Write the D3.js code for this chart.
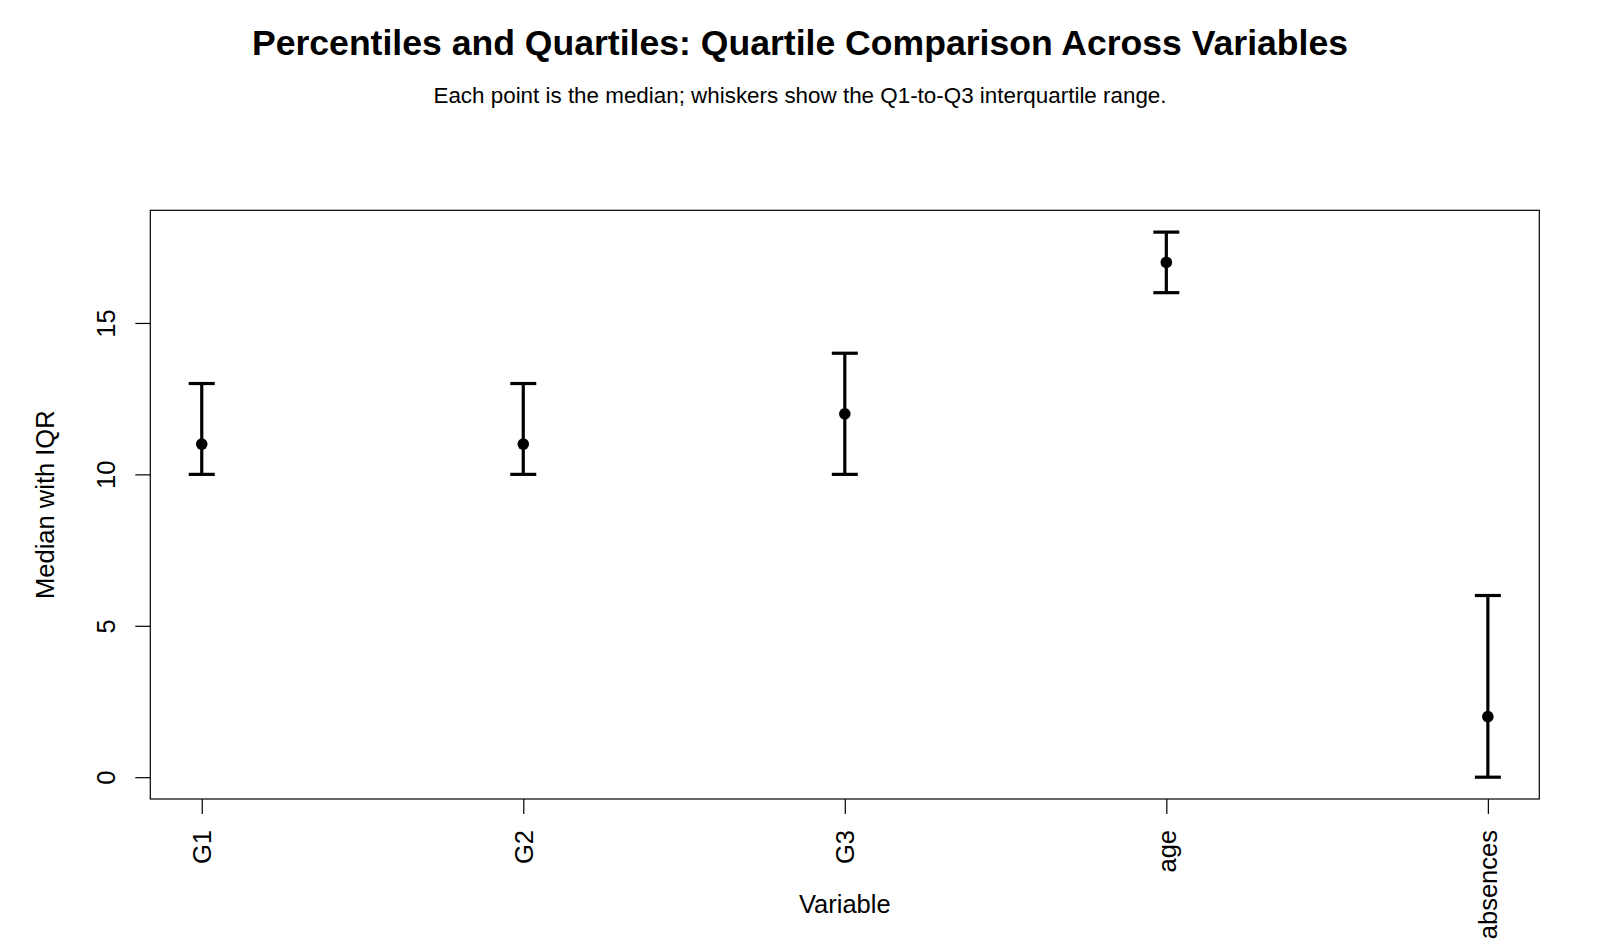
<!DOCTYPE html>
<html>
<head>
<meta charset="utf-8">
<script src="https://cdn.jsdelivr.net/npm/d3@7"></script>
<style>
  html, body { margin: 0; padding: 0; background: #fff; }
  svg { display: block; font-family: "Liberation Sans", Arial, Helvetica, sans-serif; }
</style>
</head>
<body>
<svg id="chart" width="1600" height="950"></svg>
<script>
const categories = ["G1", "G2", "G3", "age", "absences"];
const q1Values = [10, 10, 10, 16, 0];
const medianValues = [11, 11, 12, 17, 2];
const q3Values = [13, 13, 14, 18, 6];
const yTicks = [0, 5, 10, 15];

const svg = d3.select("#chart");
const W = 1600, H = 950;
const plot = { left: 150.3, right: 1539.3, top: 210.3, bottom: 799 };

svg.append("rect").attr("width", W).attr("height", H).attr("fill", "#fff");

const yMin = d3.min(q1Values), yMax = d3.max(q3Values);
const yPad = (yMax - yMin) * 0.04;
const n = categories.length;
const xPad = (n - 1) * 0.04;

const x = d3.scaleLinear().domain([1 - xPad, n + xPad]).range([plot.left, plot.right]);
const y = d3.scaleLinear().domain([yMin - yPad, yMax + yPad]).range([plot.bottom, plot.top]);

// Title and subtitle
svg.append("text").attr("x", 800).attr("y", 55).attr("text-anchor", "middle")
  .attr("font-size", 35.6).attr("font-weight", "bold").attr("fill", "#000")
  .text("Percentiles and Quartiles: Quartile Comparison Across Variables");
svg.append("text").attr("x", 800).attr("y", 103).attr("text-anchor", "middle")
  .attr("font-size", 22.4).attr("fill", "#000")
  .text("Each point is the median; whiskers show the Q1-to-Q3 interquartile range.");

// Frame
svg.append("rect").attr("x", plot.left).attr("y", plot.top)
  .attr("width", plot.right - plot.left).attr("height", plot.bottom - plot.top)
  .attr("fill", "none").attr("stroke", "#000").attr("stroke-width", 1.2);

// Y axis
const yAxis = d3.axisLeft(y).tickValues(yTicks).tickSize(15).tickPadding(0).tickFormat(d3.format("d"));
const gy = svg.append("g").attr("transform", `translate(${plot.left},0)`).call(yAxis);
gy.select(".domain").remove();
gy.selectAll(".tick line").attr("stroke", "#000").attr("stroke-width", 1.2);
gy.selectAll(".tick text")
  .attr("font-size", 25.5).attr("fill", "#000").attr("font-family", null)
  .attr("text-anchor", "middle").attr("dy", null).attr("x", null)
  .attr("transform", `translate(-35,0) rotate(-90)`);

// X axis
const xAxis = d3.axisBottom(x).tickValues(d3.range(1, n + 1)).tickSize(15).tickFormat(i => categories[i - 1]);
const gx = svg.append("g").attr("transform", `translate(0,${plot.bottom})`).call(xAxis);
gx.select(".domain").remove();
gx.selectAll(".tick line").attr("stroke", "#000").attr("stroke-width", 1.2);
gx.selectAll(".tick text")
  .attr("font-size", 25.5).attr("fill", "#000").attr("font-family", null)
  .attr("text-anchor", "end").attr("dy", null).attr("y", null)
  .attr("transform", `translate(9,31) rotate(-90)`);

// Axis titles
svg.append("text").attr("x", (plot.left + plot.right) / 2).attr("y", 913)
  .attr("text-anchor", "middle").attr("font-size", 25.5).attr("fill", "#000").text("Variable");
svg.append("text").attr("transform", `translate(54,${(plot.top + plot.bottom) / 2}) rotate(-90)`)
  .attr("text-anchor", "middle").attr("font-size", 25.5).attr("fill", "#000").text("Median with IQR");

// Error bars
const data = categories.map((c, i) => ({ c, i: i + 1, q1: q1Values[i], med: medianValues[i], q3: q3Values[i] }));
const capHalf = 13;
const g = svg.append("g");
g.selectAll(".stem").data(data).join("line")
  .attr("x1", d => x(d.i)).attr("x2", d => x(d.i))
  .attr("y1", d => y(d.q1)).attr("y2", d => y(d.q3))
  .attr("stroke", "#000").attr("stroke-width", 3.2);
g.selectAll(".capTop").data(data).join("line")
  .attr("x1", d => x(d.i) - capHalf).attr("x2", d => x(d.i) + capHalf)
  .attr("y1", d => y(d.q3)).attr("y2", d => y(d.q3))
  .attr("stroke", "#000").attr("stroke-width", 3.2);
g.selectAll(".capBot").data(data).join("line")
  .attr("x1", d => x(d.i) - capHalf).attr("x2", d => x(d.i) + capHalf)
  .attr("y1", d => y(d.q1)).attr("y2", d => y(d.q1))
  .attr("stroke", "#000").attr("stroke-width", 3.2);
g.selectAll(".pt").data(data).join("circle")
  .attr("cx", d => x(d.i)).attr("cy", d => y(d.med)).attr("r", 5.8).attr("fill", "#000");
</script>
</body>
</html>
